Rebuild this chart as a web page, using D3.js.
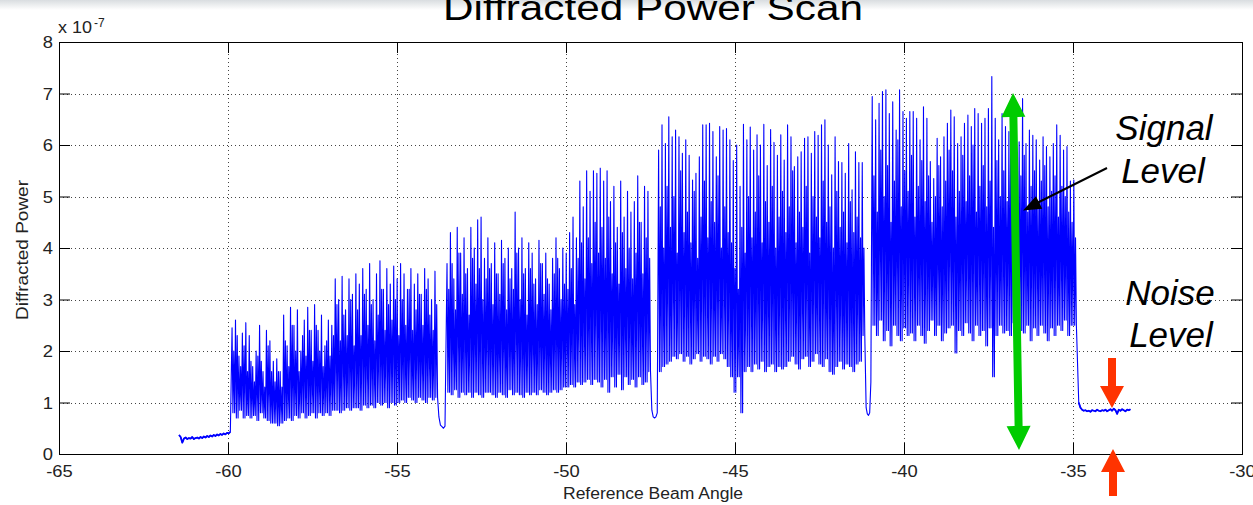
<!DOCTYPE html>
<html><head><meta charset="utf-8">
<script src="https://cdn.jsdelivr.net/npm/d3@7"></script>
<style>
html,body{margin:0;padding:0;background:#fff;overflow:hidden}
svg{display:block}
text{font-family:"Liberation Sans",Arial,Helvetica,sans-serif}
</style></head><body>
<svg id="chart" width="1253" height="505"></svg>
<script>
// ---------- data ----------
const xTicks = [-65,-60,-55,-50,-45,-40,-35,-30];
const yTicks = [0,1,2,3,4,5,6,7,8];
const title = "Diffracted Power Scan";
const xLabel = "Reference Beam Angle";
const yLabel = "Diffracted Power";

// values in units of 1e-7; each piece spans [startAngle, endAngle]
const preNoise = [0.37,0.33,0.22,0.3,0.32,0.29,0.31,0.3,0.33,0.29,0.31,0.32,0.3,0.33,0.31,0.34,0.32,0.35,0.33,0.36,0.34,0.37,0.35,0.38,0.36,0.39,0.37,0.4,0.38,0.41,0.4,0.43];
// peak, trough pairs
const segA = [2.45,0.8, 2.6,0.7, 1.9,0.85, 2.35,0.7, 2.55,0.75,
  2.3,0.7, 1.7,0.75, 2.0,0.65, 2.5,0.8, 1.6,0.7, 2.4,0.65,
  2.2,0.6, 1.8,0.6, 1.85,0.55, 1.6,0.6,
  2.7,0.65, 2.1,0.7, 2.85,0.65, 2.5,0.75, 2.8,0.7, 2.0,0.8, 2.6,0.7, 2.85,0.75, 2.4,0.8,
  2.9,0.7, 2.4,0.8, 2.7,0.75, 2.1,0.8, 2.6,0.75, 2.5,0.85,
  3.4,0.85, 3.0,0.8, 3.45,0.85, 2.8,0.9, 3.4,0.85, 3.1,0.9,
  3.5,0.9, 3.3,0.85, 3.6,0.95, 3.2,0.9, 3.7,0.95, 3.0,0.9, 3.5,1.0, 3.75,0.95, 3.2,1.0, 3.6,0.9, 3.3,1.0, 3.65,0.95, 3.4,1.0,
  3.7,1.05, 3.5,1.0, 3.2,1.1, 3.6,1.05, 3.3,1.0, 3.5,1.1, 3.1,1.05, 3.6,1.0, 3.4,1.1, 3.0,1.05, 3.55,1.1];
// intermediate spikes between the main ones
const segAMid = [2.0,2.3,1.7,2.1,1.6, 1.8,1.4,1.9,1.8,1.3,2.1, 1.6,1.4,1.6,1.3,
  2.2,1.7,2.5,2.0,1.6,2.3,1.9,2.4,1.8, 2.5,2.0,1.7,2.2,1.9,2.3, 2.9,2.2,2.7,2.3,3.0,2.1,
  2.8,2.3,3.1,2.5,2.9,2.2,2.7,3.2,2.4,2.9,2.6,3.0,2.3, 3.0,2.5,3.2,2.4,2.8,3.1,2.5,3.2,2.7,2.4,2.9];
const dropA = [0.72,0.56,0.53,0.5,0.54];
const segB = [3.7,1.2, 4.3,1.15, 3.4,1.25, 4.4,1.1, 3.9,1.2, 4.2,1.15, 3.6,1.2, 4.4,1.1, 4.0,1.2, 4.55,1.15, 4.6,1.1, 3.8,1.2,
  4.2,1.2, 3.7,1.15, 4.1,1.1, 3.5,1.2, 4.15,1.15, 3.8,1.1, 4.0,1.25, 3.6,1.15, 4.7,1.2, 4.0,1.15, 4.2,1.1, 3.6,1.2, 4.1,1.15, 3.9,1.2, 3.4,1.15, 4.15,1.25, 3.7,1.2, 3.9,1.15, 3.3,1.2, 3.8,1.25, 4.2,1.2, 3.6,1.25, 4.0,1.3,
  3.9,1.3, 4.3,1.35, 4.6,1.3, 4.2,1.4, 5.3,1.35, 4.8,1.4, 5.5,1.45, 5.1,1.35, 5.5,1.45, 5.45,1.4,
  5.55,1.3, 5.3,1.45, 5.5,1.2, 4.9,1.5, 5.2,1.3, 4.4,1.55, 5.3,1.25, 4.6,1.5, 5.1,1.35, 4.7,1.45, 4.9,1.3, 5.4,1.5, 4.5,1.35, 5.2,1.4, 5.1,1.6];
const segBMid = [3.2,3.7,2.8,3.9,3.1,3.5,2.7,3.8,3.3,3.6,3.0,3.4,
  3.6,2.9,3.5,3.1,3.7,2.8,3.4,3.2,3.9,3.0,3.5,2.7,3.6,3.3,2.9,3.7,3.1,3.4,2.8,3.5,3.8,3.0,3.3,
  3.2,3.6,2.9,3.8,4.1,3.4,4.2,3.7,4.5,3.9,
  4.4,3.8,4.6,3.5,4.1,3.3,4.3,3.6,4.0,3.4,3.9,4.5,3.5,4.2,3.8];
const dropB = [0.85,0.72,0.7,0.72,0.8];
const segC = [5.9,1.6, 6.39,1.7, 6.03,1.75, 6.55,1.8, 6.16,1.9, 6.29,1.85, 6.16,1.95, 5.84,1.8, 6.1,1.9, 5.8,1.75, 5.32,1.85, 5.45,1.95, 5.77,1.8, 6.39,1.9, 6.39,1.85, 6.42,1.75, 6.26,1.9, 5.77,1.8, 6.36,1.95, 6.29,1.85, 6.32,1.7, 6.1,1.5,
  5.7,1.2, 6.0,1.5, 5.2,0.8, 6.4,1.6,
  6.1,1.7, 6.35,1.6, 5.9,1.75, 6.2,1.65, 6.0,1.8, 6.4,1.6, 5.6,1.7, 6.3,1.75, 6.05,1.6, 5.8,1.7, 6.2,1.65,
  5.71,1.7, 6.39,1.8, 6.16,1.9, 5.58,1.75, 5.77,1.65, 5.87,1.85, 6.13,1.9, 6.16,1.7, 5.84,1.8, 6.26,1.95, 6.19,1.75, 6.39,1.7, 6.49,1.85, 6.0,1.6, 5.42,1.55, 6.16,1.7, 5.68,1.8, 5.66,1.65, 5.45,1.75, 6.03,1.7, 5.13,1.6, 5.87,1.75, 5.66,1.8, 5.66,2.3];
const segCMid = [4.8,4.0,5.2,4.4,5.0,3.9,5.5,4.3,4.7,4.1,5.1,3.8,4.6,5.3,4.2,4.9,4.5,5.4,4.0,4.8,4.3,4.1,
  3.6,3.2,4.4,3.9,
  5.0,4.2,4.7,5.4,4.1,4.9,4.5,5.2,4.0,4.6,5.1,
  4.3,4.8,5.5,4.1,4.7,4.4,5.2,3.9,5.0,4.6,4.2,5.3,4.5,4.8,4.0,5.1,4.4,4.7,4.1,4.9,4.3,4.6,4.2,4.0];
const dropC = [0.9,0.78,0.75,0.8,1.4];
const segD = [6.94,2.5, 6.49,2.3, 6.81,2.6, 7.04,2.2, 7.07,2.4, 6.61,2.1, 6.84,2.5, 6.29,2.3, 7.07,2.2, 6.65,2.45, 6.52,2.3, 6.65,2.35, 6.65,2.2, 6.52,2.5, 6.1,2.3, 6.74,2.15, 6.52,2.4, 5.68,2.6, 5.35,2.3, 6.13,2.5, 5.77,2.2, 6.16,2.35, 6.42,2.45,
  6.68,2.5, 6.55,1.96, 6.03,2.4, 6.16,2.3, 6.42,2.55, 6.58,2.35, 6.36,2.2, 6.71,2.5, 6.61,2.3, 6.42,2.4, 6.52,2.1, 6.71,2.45, 7.33,1.5, 6.52,2.3, 6.1,2.5, 6.61,2.35, 6.36,2.4, 6.26,2.3, 6.1,2.55, 6.16,2.25, 6.06,2.4, 6.9,2.35, 6.03,2.5, 6.29,2.2, 6.19,2.45, 6.1,2.3, 5.71,2.5, 6.16,2.35, 5.97,2.2, 5.77,2.45, 6.03,2.3, 6.39,2.5, 6.19,2.4, 5.9,2.6, 5.97,2.3, 5.3,2.5, 5.32,2.5];
const segDMid = [5.4,4.7,5.9,5.0,5.6,4.5,5.3,6.1,4.8,5.5,5.1,5.8,4.6,5.2,5.7,4.9,5.4,4.5,5.0,5.6,4.8,5.3,5.9,
  5.5,4.6,5.1,5.8,4.9,5.4,6.0,4.7,5.2,5.6,4.8,5.3,4.4,5.7,5.0,5.5,4.9,5.9,5.1,4.6,5.4,5.8,4.7,5.2,5.5,4.9,5.3,5.6,4.8,5.1,5.4,4.6,5.2,5.0,4.7,4.5,4.2];
const postNoise = [1.0,0.9,0.86,0.84,0.85,0.83,0.84,0.82,0.85,0.84,0.83,0.86,0.84,0.83,0.85,0.84,0.86,0.83,0.85,0.87,0.84,0.88,0.85,0.78,0.86,0.84,0.87,0.85,0.83,0.86,0.85,0.87];

// [values, midSpikes, startAngle, endAngle]
const pieces = [
  [preNoise, null, -61.45, -59.93],
  [segA, segAMid, -59.88, -53.80],
  [dropA, null, -53.76, -53.58],
  [segB, segBMid, -53.52, -47.50],
  [dropB, null, -47.46, -47.30],
  [segC, segCMid, -47.26, -41.16],
  [dropC, null, -41.12, -40.98],
  [segD, segDMid, -40.94, -34.90],
  [postNoise, null, -34.83, -33.30]
];

// ---------- drawing ----------
const svg = d3.select("#chart");
const M = {l:59, r:1242, t:42, b:454};
const x = d3.scaleLinear().domain([-65,-30]).range([M.l, M.r]);
const y = d3.scaleLinear().domain([0,8]).range([M.b, M.t]);
const stretch = 1.08;

// top band (slide background remnant)
const defs = svg.append("defs");
const g1 = defs.append("linearGradient").attr("id","band").attr("x1",0).attr("y1",0).attr("x2",0).attr("y2",1);
g1.append("stop").attr("offset","0%").attr("stop-color","#d9dde0");
g1.append("stop").attr("offset","100%").attr("stop-color","#ffffff");
svg.append("rect").attr("x",0).attr("y",0).attr("width",1253).attr("height",10).attr("fill","url(#band)");

// title
svg.append("text").attr("x",653).attr("y",20).attr("text-anchor","middle")
  .attr("font-size",35).attr("fill","#000").attr("textLength",420).attr("lengthAdjust","spacingAndGlyphs").text(title);

// grid
const grid = svg.append("g").attr("stroke","#444").attr("stroke-width",1).attr("stroke-dasharray","1,3");
grid.selectAll("line.gx").data(xTicks.slice(1,-1)).join("line")
  .attr("x1",d=>Math.round(x(d))+0.5).attr("x2",d=>Math.round(x(d))+0.5)
  .attr("y1",M.t).attr("y2",M.b);
grid.selectAll("line.gy").data(yTicks.slice(1,-1)).join("line")
  .attr("y1",d=>Math.round(y(d))+0.5).attr("y2",d=>Math.round(y(d))+0.5)
  .attr("x1",M.l).attr("x2",M.r);

// data line: main spikes (peak, trough) with a smaller spike (mid, trough) between them
const pts = [];
const noisePieces = [];
pieces.forEach(([vals,mids,a0,a1])=>{
  let seq = [];
  if (mids) {
    for (let i=0;i<vals.length;i+=2){
      seq.push(vals[i], vals[i+1]);
      if (mids[i/2]!==undefined) seq.push(mids[i/2], vals[i+1]);
    }
  } else seq = vals;
  const s = d3.scaleLinear().domain([0, seq.length-1]).range([a0,a1]);
  const local = seq.map((v,i)=>[s(i), v]);
  local.forEach(p=>pts.push(p));
  if (vals===preNoise || vals===postNoise) noisePieces.push(local);
});
const line = d3.line().x(d=>x(d[0])).y(d=>y(d[1]));
svg.append("path").datum(pts).attr("d",line).attr("fill","none")
  .attr("stroke","#0000ff").attr("stroke-width",1.1).attr("stroke-linejoin","round");
svg.selectAll("path.noise").data(noisePieces).join("path").attr("class","noise")
  .attr("d",line).attr("fill","none").attr("stroke","#0000ff").attr("stroke-width",1.8).attr("stroke-linejoin","round");

// axes
const fmt = d => String(d);
function styleAxis(g){
  g.select(".domain").remove();
  g.selectAll(".tick line").attr("stroke","#000");
  g.selectAll(".tick text").attr("fill","#222").attr("font-size",17)
   .attr("font-family","'Liberation Sans',Arial,sans-serif");
}
const axB = svg.append("g").attr("transform",`translate(0,${M.b})`)
  .call(d3.axisBottom(x).tickValues(xTicks).tickSizeInner(-11).tickSizeOuter(0).tickFormat(fmt));
styleAxis(axB);
axB.selectAll(".tick text").attr("y",23).attr("dy",null);
const axT = svg.append("g").attr("transform",`translate(0,${M.t})`)
  .call(d3.axisTop(x).tickValues(xTicks).tickSizeInner(-11).tickSizeOuter(0).tickFormat(""));
styleAxis(axT);
const axL = svg.append("g").attr("transform",`translate(${M.l},0)`)
  .call(d3.axisLeft(y).tickValues(yTicks).tickSizeInner(-11).tickSizeOuter(0).tickPadding(6).tickFormat(fmt));
styleAxis(axL);
axL.selectAll(".tick text").attr("dy","0.34em");
const axR = svg.append("g").attr("transform",`translate(${M.r},0)`)
  .call(d3.axisRight(y).tickValues(yTicks).tickSizeInner(-11).tickSizeOuter(0).tickFormat(""));
styleAxis(axR);

// box
svg.append("rect").attr("x",M.l+0.5).attr("y",M.t+0.5).attr("width",M.r-M.l).attr("height",M.b-M.t)
  .attr("fill","none").attr("stroke","#000").attr("stroke-width",1);

// stretch tick labels horizontally
svg.selectAll(".tick text").each(function(){
  const L = this.getComputedTextLength();
  if (L>0) d3.select(this).attr("textLength",L*stretch).attr("lengthAdjust","spacingAndGlyphs");
});

// exponent
svg.append("text").attr("x",58).attr("y",33).attr("font-size",16).attr("fill","#222")
  .attr("textLength",34).attr("lengthAdjust","spacingAndGlyphs").text("x 10");
svg.append("text").attr("x",94).attr("y",27).attr("font-size",12).attr("fill","#222").text("-7");

// axis labels
svg.append("text").attr("x",653).attr("y",499).attr("text-anchor","middle").attr("font-size",16)
  .attr("fill","#222").attr("textLength",180).attr("lengthAdjust","spacingAndGlyphs").text(xLabel);
svg.append("text").attr("transform","translate(28,250) rotate(-90)").attr("text-anchor","middle").attr("font-size",16)
  .attr("fill","#222").attr("textLength",140).attr("lengthAdjust","spacingAndGlyphs").text(yLabel);

// ---------- annotations ----------
function arrowPoly(x1,y1,x2,y2,shaftW,headW,headL,both){
  const dx=x2-x1, dy=y2-y1, L=Math.hypot(dx,dy), ux=dx/L, uy=dy/L, nx=-uy, ny=ux;
  const P=(t,w)=>[x1+ux*t+nx*w, y1+uy*t+ny*w];
  const s=shaftW/2, h=headW/2;
  let p=[];
  if(both){
    p=[P(0,0),P(headL,h),P(headL,s),P(L-headL,s),P(L-headL,h),P(L,0),P(L-headL,-h),P(L-headL,-s),P(headL,-s),P(headL,-h)];
  } else {
    p=[P(0,s),P(L-headL,s),P(L-headL,h),P(L,0),P(L-headL,-h),P(L-headL,-s),P(0,-s)];
  }
  return p.map(q=>q.join(",")).join(" ");
}
const ann = svg.append("g");
ann.append("polygon").attr("points",arrowPoly(1013,93,1019,450,8,24,24,true)).attr("fill","#00cc00");
ann.append("polygon").attr("points",arrowPoly(1112,358,1112,408,8,24,22,false)).attr("fill","#ff3300");
ann.append("polygon").attr("points",arrowPoly(1113,496,1113,449,8,24,23,false)).attr("fill","#ff3300");
// black arrow
ann.append("line").attr("x1",1107).attr("y1",168).attr("x2",1036).attr("y2",203.5).attr("stroke","#000").attr("stroke-width",2);
ann.append("polygon").attr("points",arrowPoly(1060,192,1023,210.5,0,14,18,false)).attr("fill","#000");

const annT = ann.append("g").attr("font-style","italic").attr("font-size",35).attr("fill","#000").attr("text-anchor","middle");
annT.append("text").attr("x",1164).attr("y",140).text("Signal");
annT.append("text").attr("x",1163).attr("y",183).text("Level");
annT.append("text").attr("x",1170).attr("y",305).text("Noise");
annT.append("text").attr("x",1171).attr("y",347).text("Level");
</script>
</body></html>
